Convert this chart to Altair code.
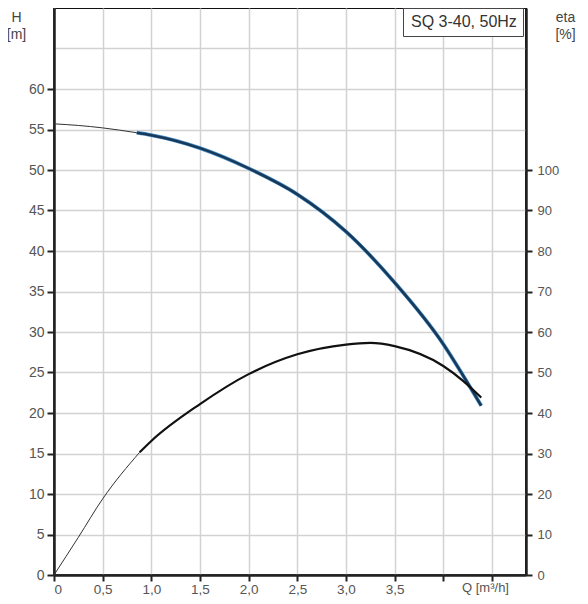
import altair as alt
import pandas as pd

# Pump head curve H(Q)
q_h = [0, 0.25, 0.5, 0.85, 1.0, 1.5, 2.0, 2.5, 3.0, 3.5, 4.0, 4.2, 4.39]
h_m = [55.7, 55.5, 55.2, 54.6, 54.3, 52.7, 50.2, 47.0, 42.4, 36.1, 28.5, 24.7, 20.9]
h_split = 0.85

# Efficiency curve eta(Q)
q_eta = [0, 0.25, 0.5, 0.88, 1.0, 1.5, 2.0, 2.5, 3.0, 3.25, 3.5, 4.0, 4.2, 4.39]
eta_pct = [0, 9.3, 18.8, 30.3, 33.1, 42.2, 49.6, 54.5, 56.9, 57.3, 56.5, 51.6, 48.0, 43.8]
eta_split = 0.88

model_label = "SQ 3-40, 50Hz"

x_ticks = [0, 0.5, 1.0, 1.5, 2.0, 2.5, 3.0, 3.5, 4.0, 4.5]
h_ticks = [0, 5, 10, 15, 20, 25, 30, 35, 40, 45, 50, 55, 60, 65]
eta_ticks = [0, 10, 20, 30, 40, 50, 60, 70, 80, 90, 100]

df_h = pd.DataFrame({"Q": q_h, "H": h_m, "label": model_label})
df_eta = pd.DataFrame({"Q": q_eta, "eta": eta_pct})
h_thin = df_h[df_h.Q <= h_split]
h_thick = df_h[df_h.Q >= h_split]
e_thin = df_eta[df_eta.Q <= eta_split]
e_thick = df_eta[df_eta.Q >= eta_split]

FONT = "Liberation Sans"
LABEL_COLOR = "#555555"

x_axis = alt.Axis(
    values=x_ticks,
    labelExpr="datum.value > 3.6 ? '' : (datum.value == 0 ? '0' : replace(format(datum.value, '.1f'), '.', ','))",
    grid=True, gridColor="#d2d2d2", gridWidth=1.5,
    domainColor="#222222", domainWidth=2.5,
    tickColor="#222222", tickSize=6, tickWidth=2,
    labelFontSize=13.5, labelColor=LABEL_COLOR, labelPadding=1,
    title="Q [m³/h]", titleX=431, titleY=16, titleBaseline="alphabetic",
    titleAlign="center", titleFontSize=13, titleFontWeight="normal",
    titleColor=LABEL_COLOR,
)
x_scale = alt.Scale(domain=[0, 4.85], nice=False, zero=False)
x_enc = alt.X("Q:Q", scale=x_scale, axis=x_axis)

h_axis = alt.Axis(
    values=h_ticks,
    labelExpr="datum.value > 60 ? '' : datum.label",
    tickOpacity={"condition": {"test": "datum.value > 60", "value": 0}, "value": 1},
    grid=True, gridColor="#d2d2d2", gridWidth=1.5,
    domainColor="#222222", domainWidth=2.5,
    tickColor="#222222", tickSize=7, tickWidth=2,
    labelFontSize=14, labelColor=LABEL_COLOR, labelPadding=3,
    title=["H", "[m]"], titleAngle=0, titleX=-38, titleY=2,
    titleAlign="center", titleBaseline="top", titleFontSize=14,
    titleFontWeight="normal", titleColor="#444444", titleLineHeight=17,
)
h_scale = alt.Scale(domain=[0, 70], nice=False)

eta_axis = alt.Axis(
    orient="right",
    values=eta_ticks,
    grid=False,
    domainColor="#222222", domainWidth=2.5,
    tickColor="#222222", tickSize=6, tickWidth=2,
    labelFontSize=13, labelColor=LABEL_COLOR, labelPadding=5,
    title=["eta", "[%]"], titleAngle=0, titleX=39, titleY=2,
    titleAlign="center", titleBaseline="top", titleFontSize=14,
    titleFontWeight="normal", titleColor="#444444", titleLineHeight=17,
)
eta_scale = alt.Scale(domain=[0, 140], nice=False)

h1 = alt.Chart(h_thin).mark_line(color="#333333", strokeWidth=1, interpolate="monotone").encode(
    x=x_enc, y=alt.Y("H:Q", scale=h_scale, axis=h_axis))
h2 = alt.Chart(h_thick).mark_line(color="#4f93cc", strokeWidth=3.8, interpolate="monotone").encode(
    x=x_enc, y=alt.Y("H:Q", scale=h_scale, axis=h_axis))
h3 = alt.Chart(h_thick).mark_line(color="#173a5a", strokeWidth=2.6, interpolate="monotone").encode(
    x=x_enc, y=alt.Y("H:Q", scale=h_scale, axis=h_axis),
    opacity=alt.Opacity("label:N", scale=alt.Scale(range=[1]),
                        legend=alt.Legend(title=None, orient="none", legendX=349, legendY=0,
                                          strokeColor="#444444", fillColor="white", padding=6,
                                          symbolSize=0, symbolStrokeWidth=0, symbolOpacity=0,
                                          labelFontSize=16, labelColor="#333333",
                                          labelOffset=alt.ExprRef("-14"),
                                          labelFont=FONT)))

e1 = alt.Chart(e_thin).mark_line(color="#333333", strokeWidth=1, interpolate="monotone").encode(
    x=x_enc, y=alt.Y("eta:Q", scale=eta_scale, axis=eta_axis))
e2 = alt.Chart(e_thick).mark_line(color="#111111", strokeWidth=2.2, interpolate="monotone").encode(
    x=x_enc, y=alt.Y("eta:Q", scale=eta_scale, axis=eta_axis))

chart = alt.layer(alt.layer(h1, h2, h3), alt.layer(e1, e2)).resolve_scale(y="independent").properties(
    width=472, height=567,
    autosize=alt.AutoSizeParams(type="none"),
    padding={"left": 46, "top": 0, "right": 54, "bottom": 21},
).configure(font=FONT).configure_view(stroke="#111111", strokeWidth=2)

chart.save("out.html", embed_options={"renderer": "svg", "actions": False})
